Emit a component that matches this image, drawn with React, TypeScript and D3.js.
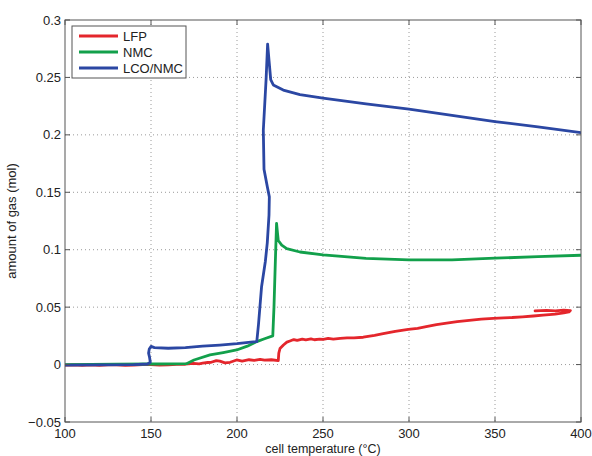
import React from "react";
import * as d3 from "d3";

const xTicks = [100, 150, 200, 250, 300, 350, 400];
const yTicks = [-0.05, 0, 0.05, 0.1, 0.15, 0.2, 0.25, 0.3];
const seriesNames = ["LFP", "NMC", "LCO/NMC"];
const seriesColors = ["#e4262c", "#12a04b", "#2b47a3"];

const lfp: [number, number][] = [
  [100, -0.0005], [105, -0.0002], [110, -0.0006], [115, -0.0002], [120, -0.0007], [125, -0.0003],
  [130, -0.0002], [135, -0.0006], [140, -0.0004], [145, -0.0001], [150, 0], [155, -0.0004],
  [160, -0.0002], [165, 0.0002], [170, 0.0003], [174.6, 0.001], [178, 0.0006], [180, 0.0012],
  [183, 0.0018], [185, 0.002], [188, 0.0035], [190, 0.003], [193, 0.0015], [196, 0.002],
  [199.8, 0.004], [203, 0.003], [207, 0.0042], [210, 0.0036], [213.4, 0.0046], [216, 0.0038],
  [220, 0.0042], [224, 0.0034], [224.3, 0.01], [225, 0.014], [227, 0.017], [229, 0.0195],
  [230.8, 0.0205], [233, 0.0218], [235, 0.021], [238, 0.0222], [240, 0.0215], [243, 0.0224],
  [245, 0.0216], [248, 0.0222], [250.2, 0.022], [253, 0.0228], [256, 0.0222], [260, 0.0228],
  [264, 0.0232], [268, 0.0232], [273.4, 0.0238], [280, 0.0255], [285, 0.027], [292, 0.029],
  [299.6, 0.0307], [305, 0.0315], [310, 0.033], [316, 0.0348], [321.9, 0.036], [328, 0.0373],
  [335, 0.0385], [342, 0.0395], [349, 0.0403], [355, 0.0407], [360, 0.041], [366, 0.0416],
  [372.3, 0.0423], [378, 0.043], [385, 0.044], [390, 0.045], [393, 0.0458], [393.8, 0.047],
  [390, 0.0474], [385, 0.0468], [380, 0.0472], [373.3, 0.0467],
];

const nmc: [number, number][] = [
  [100, 0], [130, 0.0003], [150, 0.0005], [165, 0.0006], [170.7, 0.0008], [175, 0.004],
  [184.3, 0.0084], [192, 0.0105], [199.8, 0.0127], [206, 0.016], [211.5, 0.02], [216, 0.0225],
  [220.8, 0.025], [221.5, 0.05], [222.3, 0.09], [223, 0.123], [223.5, 0.115], [224, 0.108],
  [226, 0.104], [228.9, 0.101], [236.6, 0.098], [250, 0.0955], [275, 0.0925], [300, 0.0911],
  [325, 0.0912], [350, 0.0926], [375, 0.094], [400, 0.0952],
];

const lcoNmc: [number, number][] = [
  [100, -0.0005], [120, -0.0003], [140, 0], [148, 0.0005], [149.6, 0.002], [149.2, 0.006],
  [148.6, 0.01], [149, 0.0135], [150, 0.0158], [152, 0.0148], [160, 0.0142], [170, 0.0148],
  [180, 0.016], [190, 0.017], [200, 0.0182], [208, 0.0195], [211.5, 0.02], [212.5, 0.035],
  [214.3, 0.068], [216.5, 0.09], [217.6, 0.106], [218.6, 0.13], [218.8, 0.146], [217.6, 0.155],
  [215.7, 0.17], [215.3, 0.204], [216.9, 0.248], [217.8, 0.279], [218.6, 0.265], [219.6, 0.248],
  [221.1, 0.2435], [226.9, 0.239], [236.6, 0.235], [250, 0.232], [275, 0.227], [300, 0.2224],
  [325, 0.217], [350, 0.2116], [375, 0.207], [400, 0.202],
];

const allSeries = [lfp, nmc, lcoNmc];

const W = 592, H = 456;
const L = 65, R = 581, T = 20, B = 422;

export default function App() {
  const x = d3.scaleLinear().domain([100, 400]).range([L, R]);
  const y = d3.scaleLinear().domain([-0.05, 0.3]).range([B, T]);
  const line = d3.line<[number, number]>().x(d => x(d[0])).y(d => y(d[1]));
  const font = "'Liberation Sans', Arial, sans-serif";
  const fmtY = (v: number) => (v < 0 ? "\u2212" + String(-v) : String(Math.round(v * 100) / 100));
  return (
    <svg width={W} height={H} style={{ position: "absolute", left: 0, top: 0, background: "#fff" }} fontFamily={font}>
      <defs>
        <clipPath id="clip"><rect x={L} y={T} width={R - L} height={B - T} /></clipPath>
      </defs>
      <rect x={0} y={0} width={W} height={H} fill="#fff" />
      {xTicks.slice(1, -1).map(t => (
        <line key={"gx" + t} x1={x(t)} x2={x(t)} y1={T} y2={B} stroke="#9a9a9a" strokeWidth={1} strokeDasharray="1,3" />
      ))}
      {yTicks.slice(1, -1).map(t => (
        <line key={"gy" + t} x1={L} x2={R} y1={y(t)} y2={y(t)} stroke="#9a9a9a" strokeWidth={1} strokeDasharray="1,3" />
      ))}
      <g clipPath="url(#clip)">
        {allSeries.map((s, i) => (
          <path key={i} d={line(s) || ""} fill="none" stroke={seriesColors[i]} strokeWidth={2.8} strokeLinejoin="round" strokeLinecap="round" />
        ))}
      </g>
      <rect x={L} y={T} width={R - L} height={B - T} fill="none" stroke="#555" strokeWidth={1} />
      {xTicks.map(t => (
        <g key={"tx" + t}>
          <line x1={x(t)} x2={x(t)} y1={B} y2={B - 5} stroke="#555" />
          <line x1={x(t)} x2={x(t)} y1={T} y2={T + 5} stroke="#555" />
          <text x={x(t)} y={437.5} textAnchor="middle" fontSize={13} fill="#222">{t}</text>
        </g>
      ))}
      {yTicks.map(t => (
        <g key={"ty" + t}>
          <line x1={L} x2={L + 5} y1={y(t)} y2={y(t)} stroke="#555" />
          <line x1={R} x2={R - 5} y1={y(t)} y2={y(t)} stroke="#555" />
          <text x={61} y={y(t) + 4.5} textAnchor="end" fontSize={13} fill="#222">{fmtY(t)}</text>
        </g>
      ))}
      <text x={(L + R) / 2} y={453} textAnchor="middle" fontSize={12.5} fill="#222">cell temperature (°C)</text>
      <text transform={`translate(16,${(T + B) / 2}) rotate(-90)`} textAnchor="middle" fontSize={13} fill="#222">amount of gas (mol)</text>
      <rect x={72} y={26} width={114} height={52} fill="#fff" stroke="#555" strokeWidth={1} />
      {seriesNames.map((n, i) => (
        <g key={n}>
          <line x1={79} x2={118} y1={36 + i * 16} y2={36 + i * 16} stroke={seriesColors[i]} strokeWidth={2.8} />
          <text x={123} y={36 + i * 16 + 4.5} fontSize={13} fill="#222">{n}</text>
        </g>
      ))}
    </svg>
  );
}
